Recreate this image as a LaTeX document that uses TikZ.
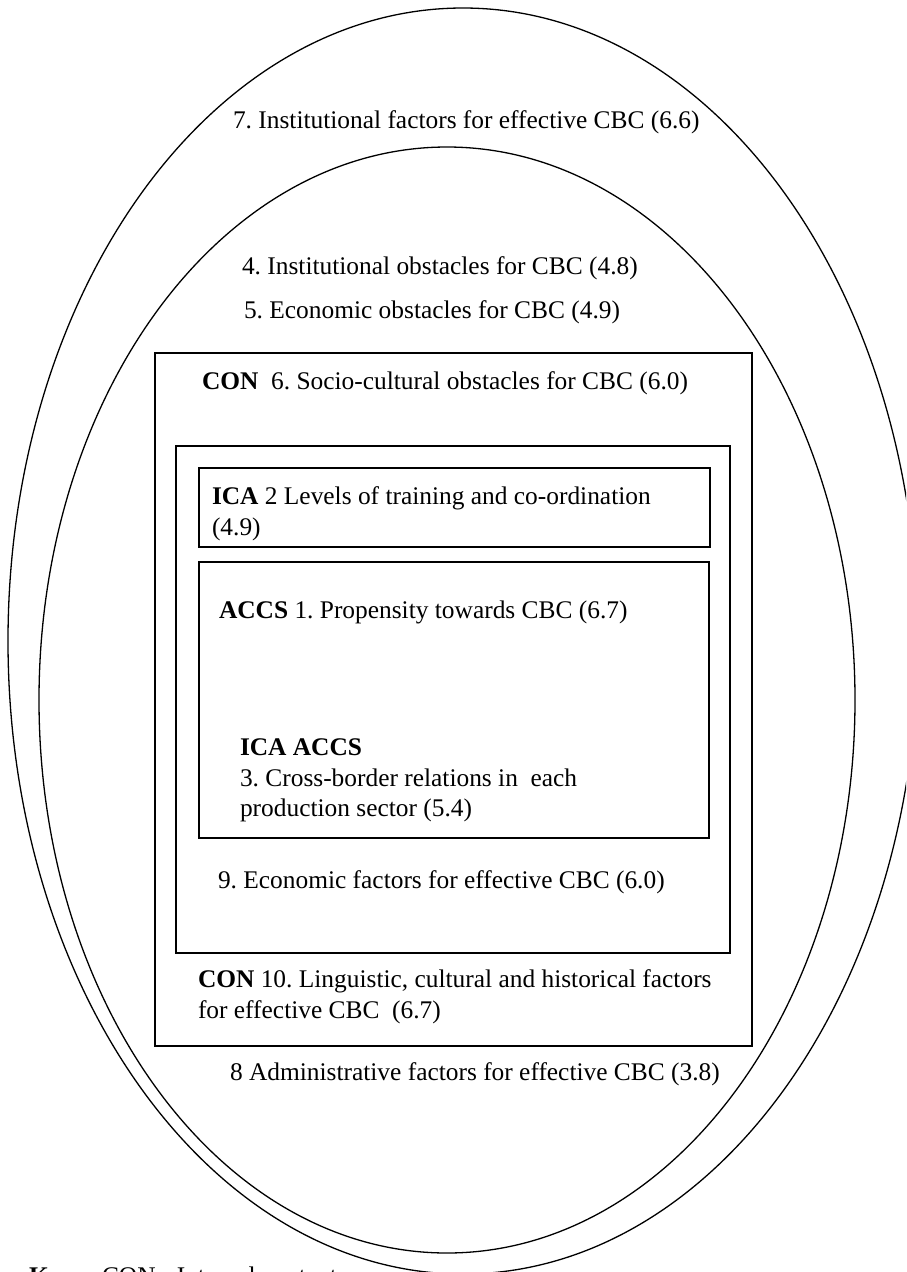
\documentclass[tikz,border=0pt]{standalone}
\usepackage{fontspec}
\setmainfont{Liberation Serif}
\frenchspacing
\begin{document}
\begin{tikzpicture}[x=1pt,y=-1pt,
  lbl/.style={anchor=base west,inner sep=0pt,outer sep=0pt,font=\fontsize{25.4}{31}\selectfont},
  ring/.style={draw=black,line width=1.3pt},
  frame/.style={draw=black,line width=1.7pt}]
\useasboundingbox (0,0) rectangle (906,1272);
\clip (0,0) rectangle (906,1272);
% ellipses
\draw[ring] (463,641) ellipse [x radius=455pt, y radius=633pt];
\draw[ring] (447,700) ellipse [x radius=408pt, y radius=553pt];
% boxes
\draw[frame] (155,353) rectangle (752,1046);
\draw[frame] (176,446) rectangle (730,953);
\draw[frame] (199,468) rectangle (710,547);
\draw[frame] (199,562) rectangle (709,838);
% labels
\node[lbl] (t7) at (233,128) {7. Institutional factors for effective CBC (6.6)};
\node[lbl] (t4) at (242,274) {4. Institutional obstacles for CBC (4.8)};
\node[lbl] (t5) at (244,318) {5. Economic obstacles for CBC (4.9)};
\node[lbl] (t6) at (202,389) {\textbf{CON}\ \ 6. Socio-cultural obstacles for CBC (6.0)};
\node[lbl] (t2a) at (212,504) {\textbf{ICA} 2 Levels of training and co-ordination};
\node[lbl] (t2b) at (212,535) {(4.9)};
\node[lbl] (t1) at (219,618) {\textbf{ACCS} 1. Propensity towards CBC (6.7)};
\node[lbl] (t3a) at (240,755) {\textbf{ICA ACCS}};
\node[lbl] (t3b) at (240,786) {3. Cross-border relations in\ \ each};
\node[lbl] (t3c) at (240,816) {production sector (5.4)};
\node[lbl] (t9) at (218,888) {9. Economic factors for effective CBC (6.0)};
\node[lbl] (t10a) at (198,987) {\textbf{CON} 10. Linguistic, cultural and historical factors};
\node[lbl] (t10b) at (198,1018) {for effective CBC\ \ (6.7)};
\node[lbl] (t8) at (230,1080) {8 Administrative factors for effective CBC (3.8)};
\node[lbl] (key) at (29,1284) {\textbf{Key:}};
\node[lbl] (keycon) at (102,1284) {CON - Internal context};
\end{tikzpicture}
\end{document}
